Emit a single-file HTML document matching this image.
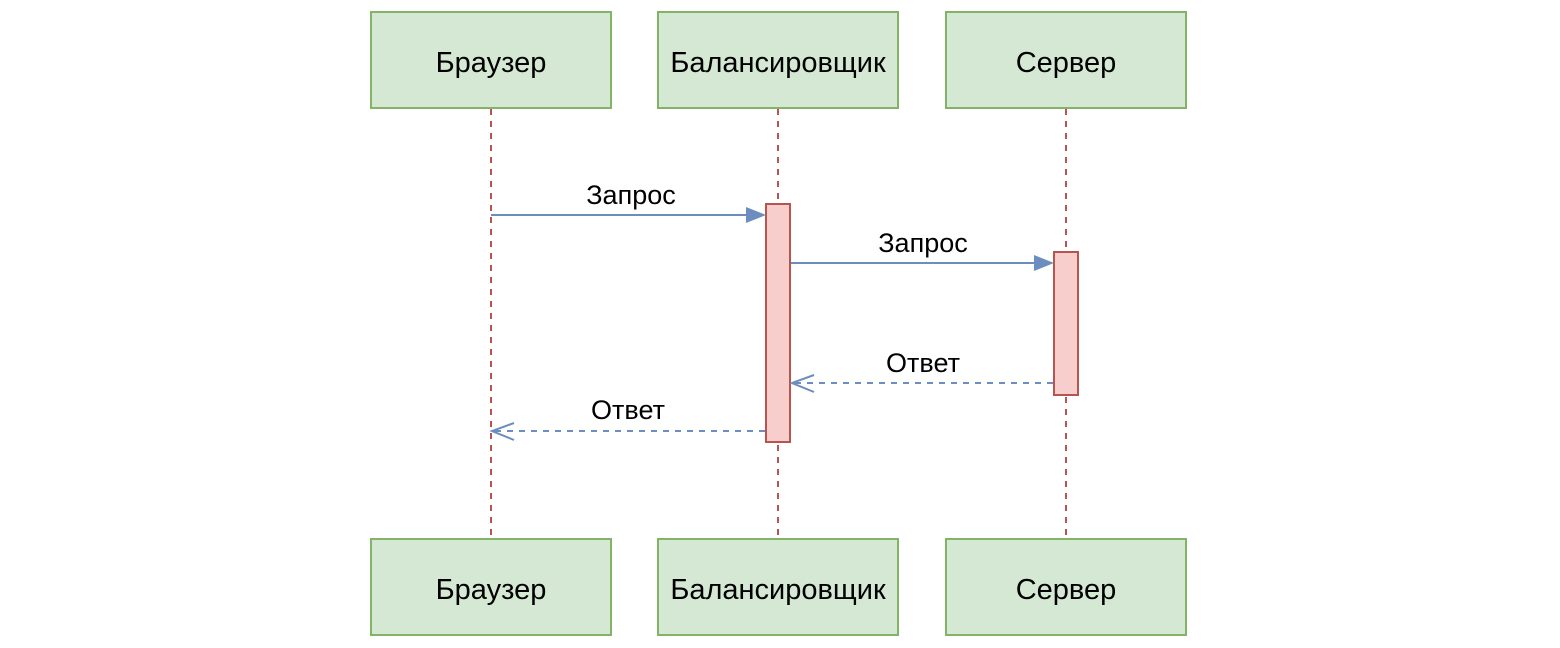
<!DOCTYPE html>
<html><head><meta charset="utf-8"><style>
html,body{margin:0;padding:0;background:#fff;width:1560px;height:648px;overflow:hidden}
text{font-family:"Liberation Sans",Arial,sans-serif;fill:#000}
</style></head><body>
<svg width="1560" height="648" viewBox="0 0 1560 648" xmlns="http://www.w3.org/2000/svg">
<g stroke="#b85450" stroke-width="2" stroke-dasharray="6,6" fill="none">
<line x1="491" y1="109" x2="491" y2="538"/>
<line x1="778" y1="109" x2="778" y2="538"/>
<line x1="1066" y1="109" x2="1066" y2="538"/>
</g>
<g fill="#d5e8d4" stroke="#82b366" stroke-width="2">
<rect x="371" y="12" width="240" height="96"/>
<rect x="658" y="12" width="240" height="96"/>
<rect x="946" y="12" width="240" height="96"/>
<rect x="371" y="539" width="240" height="96"/>
<rect x="658" y="539" width="240" height="96"/>
<rect x="946" y="539" width="240" height="96"/>
</g>
<g font-size="29" text-anchor="middle">
<text x="491" y="72">Браузер</text>
<text x="778" y="72">Балансировщик</text>
<text x="1066" y="72">Сервер</text>
<text x="491" y="599">Браузер</text>
<text x="778" y="599">Балансировщик</text>
<text x="1066" y="599">Сервер</text>
</g>
<g fill="#f8cecc" stroke="#b85450" stroke-width="2">
<rect x="766" y="204" width="24" height="238"/>
<rect x="1054" y="252" width="24" height="143"/>
</g>
<g stroke="#6c8ebf" stroke-width="2" fill="none">
<line x1="491" y1="215" x2="750" y2="215"/>
<line x1="791" y1="263" x2="1038" y2="263"/>
<line x1="1053" y1="383" x2="792" y2="383" stroke-dasharray="6,6"/>
<line x1="765" y1="431" x2="492" y2="431" stroke-dasharray="6,6"/>
<polyline points="814,375 792,383 814,392"/>
<polyline points="514,423 492,431 514,440"/>
</g>
<g fill="#6c8ebf">
<polygon points="746,207 766,215 746,223"/>
<polygon points="1034,255 1054,263 1034,271"/>
</g>
<g font-size="27" text-anchor="middle">
<text x="631" y="204">Запрос</text>
<text x="923" y="252">Запрос</text>
<text x="923" y="372">Ответ</text>
<text x="628" y="419">Ответ</text>
</g>
</svg>
</body></html>
